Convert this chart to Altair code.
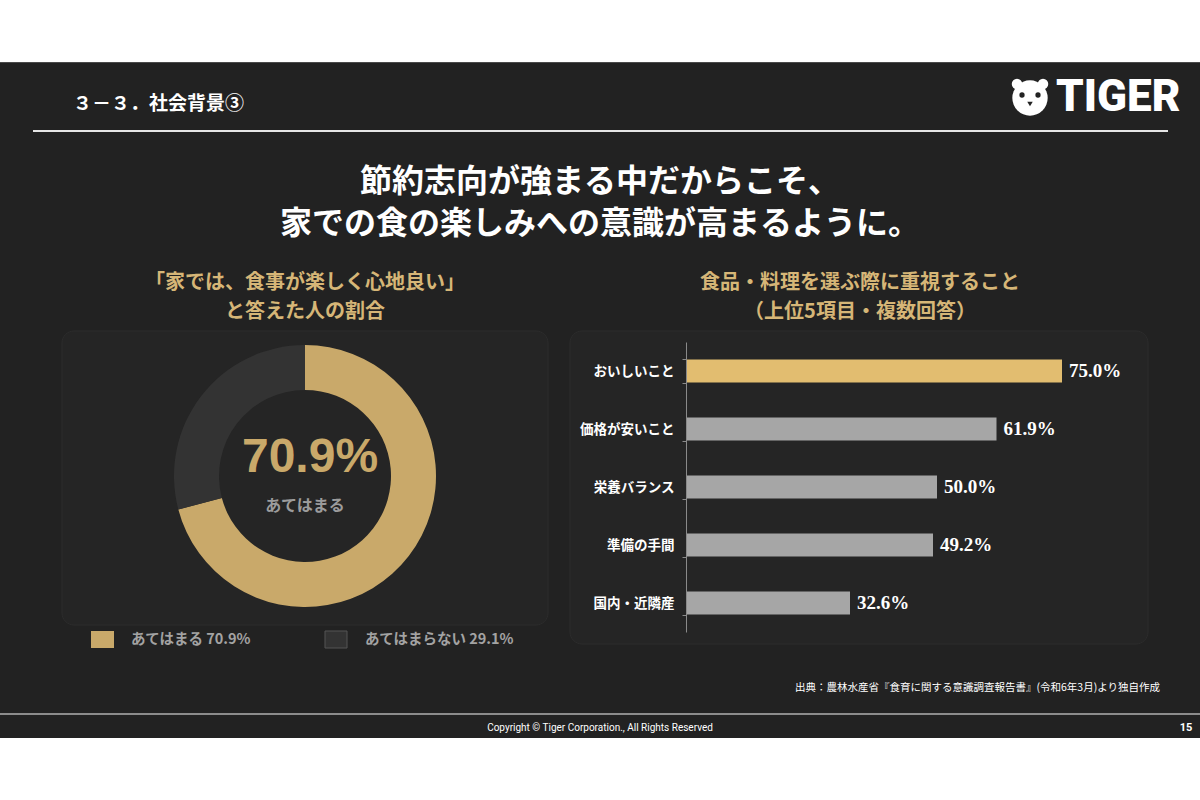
import altair as alt
import pandas as pd

# ---- data ----
donut_labels = ["あてはまる", "あてはまらない"]
donut_values = [70.9, 29.1]
donut_colors = ["#c9a96a", "#333333"]

bar_categories = ["おいしいこと", "価格が安いこと", "栄養バランス", "準備の手間", "国内・近隣産"]
bar_values = [75.0, 61.9, 50.0, 49.2, 32.6]
bar_colors = ["#e2bd70", "#a6a6a6", "#a6a6a6", "#a6a6a6", "#a6a6a6"]

JP = "Noto Sans CJK JP"
GOLD = "#d6b677"
BG = "#222222"

one = pd.DataFrame({"k": [0]})


def txt(text, x, y, size, color="#ffffff", align="center", weight="bold", font=JP, baseline="middle"):
    return alt.Chart(one).mark_text(
        text=text, fontSize=size, color=color, align=align, font=font,
        fontWeight=weight, baseline=baseline
    ).encode(x=alt.value(x), y=alt.value(y))


def box(x, x2, y, y2, fill, stroke=None, r=0, sw=1):
    kw = dict(fill=fill, cornerRadius=r)
    if stroke:
        kw.update(stroke=stroke, strokeWidth=sw)
    return alt.Chart(one).mark_rect(**kw).encode(
        x=alt.value(x), x2=alt.value(x2), y=alt.value(y), y2=alt.value(y2))


def hline(x, x2, y, color, w):
    return alt.Chart(one).mark_rule(color=color, strokeWidth=w).encode(
        x=alt.value(x), x2=alt.value(x2), y=alt.value(y))


def dot(x, y, size, color, shape="circle"):
    return alt.Chart(one).mark_point(filled=True, shape=shape, size=size, color=color, opacity=1).encode(
        x=alt.value(x), y=alt.value(y))


layers = []
# slide background
layers.append(box(0, 1200, 62, 738, BG))
layers.append(hline(0, 1200, 62.5, "#4a4a4a", 1))
# header
layers.append(txt("３－３．社会背景③", 73, 104, 19, align="left"))
layers.append(hline(33, 1168, 131, "#e6e6e6", 2))
# logo (simple tiger face)
layers.append(dot(1017, 84, 110, "#ffffff"))
layers.append(dot(1043, 84, 110, "#ffffff"))
layers.append(dot(1030, 98, 1250, "#ffffff"))
layers.append(dot(1022, 95, 28, "#222222"))
layers.append(dot(1038, 95, 28, "#222222"))
layers.append(dot(1030, 104, 30, "#222222", shape="triangle-down"))
layers.append(txt("TIGER", 1056, 98, 44, align="left", font="Roboto", weight=900))

# main titles
layers.append(txt("節約志向が強まる中だからこそ、", 600, 182, 32))
layers.append(txt("家での食の楽しみへの意識が高まるように。", 600, 224, 32))

# sub titles
layers.append(txt("「家では、食事が楽しく心地良い」", 305, 283, 20, color=GOLD))
layers.append(txt("と答えた人の割合", 305, 312, 20, color=GOLD))
layers.append(txt("食品・料理を選ぶ際に重視すること", 860, 283, 20, color=GOLD))
layers.append(txt("（上位5項目・複数回答）", 860, 312, 20, color=GOLD))

# panels
layers.append(box(62, 548, 331, 625, "#252525", stroke="#2c2c2c", r=12))
layers.append(box(570, 1148, 331, 644, "#252525", stroke="#2c2c2c", r=12))

# donut
donut_df = pd.DataFrame({"label": donut_labels, "value": donut_values, "order": [0, 1]})
donut = alt.Chart(donut_df).mark_arc(outerRadius=131, innerRadius=86).encode(
    theta=alt.Theta("value:Q", stack=True),
    order=alt.Order("order:Q"),
    color=alt.Color("label:N", scale=alt.Scale(domain=donut_labels, range=donut_colors), legend=None),
    x=alt.value(305), y=alt.value(476),
)
layers.append(donut)
layers.append(txt(f"{donut_values[0]}%", 310, 458, 48, color="#c9a96a", font="Liberation Sans"))
layers.append(txt(donut_labels[0], 305, 506, 16, color="#9c9c9c"))

# legend (manual)
layers.append(box(91, 114, 631, 648, donut_colors[0]))
layers.append(txt(f"{donut_labels[0]}  {donut_values[0]}%", 131, 640, 14.5, color="#a3a3a3", align="left"))
layers.append(box(325, 347, 631, 648, donut_colors[1], stroke="#555555"))
layers.append(txt(f"{donut_labels[1]}  {donut_values[1]}%", 365, 640, 14.5, color="#a3a3a3", align="left"))

# bars
bar_df = pd.DataFrame({"cat": bar_categories, "value": bar_values, "col": bar_colors,
                       "lab": [f"{v:.1f}%" for v in bar_values]})
yscale = alt.Scale(range=[342, 632], paddingInner=0.6, paddingOuter=0.3)
yenc = alt.Y("cat:N", sort=bar_categories, scale=yscale,
             axis=alt.Axis(title=None, offset=-686, zindex=2, domainColor="#8a8a8a", tickColor="#8a8a8a",
                           tickBand="extent", tickSize=4, labelColor="#ffffff", labelFont=JP,
                           labelFontWeight="bold", labelFontSize=13.5, labelPadding=8))
xenc = alt.X("value:Q", scale=alt.Scale(domain=[0, 75], range=[687, 1062]), axis=None)
bars = alt.Chart(bar_df).mark_bar(cornerRadius=0).encode(
    x=xenc, y=yenc, color=alt.Color("col:N", scale=None))
bar_labels = alt.Chart(bar_df).mark_text(align="left", dx=7, fontSize=19, font="Liberation Serif",
                                         fontWeight="bold", color="#ffffff").encode(
    x=xenc, y=alt.Y("cat:N", sort=bar_categories, scale=yscale, axis=None),
    text="lab:N")
layers.append(bars)
layers.append(bar_labels)

# source & footer
layers.append(txt("出典：農林水産省『食育に関する意識調査報告書』(令和6年3月)より独自作成", 1160, 688, 10.5,
                  align="right", weight="normal"))
layers.append(hline(0, 1200, 714, "#8c8c8c", 2))
layers.append(txt("Copyright © Tiger Corporation., All Rights Reserved", 600, 728, 10, weight="normal",
                  font="Roboto"))
layers.append(txt("15", 1186, 728, 11, font="Roboto"))

chart = alt.layer(*layers).resolve_scale(
    x="independent", y="independent", color="independent", theta="independent"
).properties(
    width=1200, height=800, padding=0, autosize=alt.AutoSizeParams(type="none"),
    background="#ffffff"
).configure_view(stroke=None)

chart.save("out.html", embed_options={"renderer": "svg", "actions": False})
